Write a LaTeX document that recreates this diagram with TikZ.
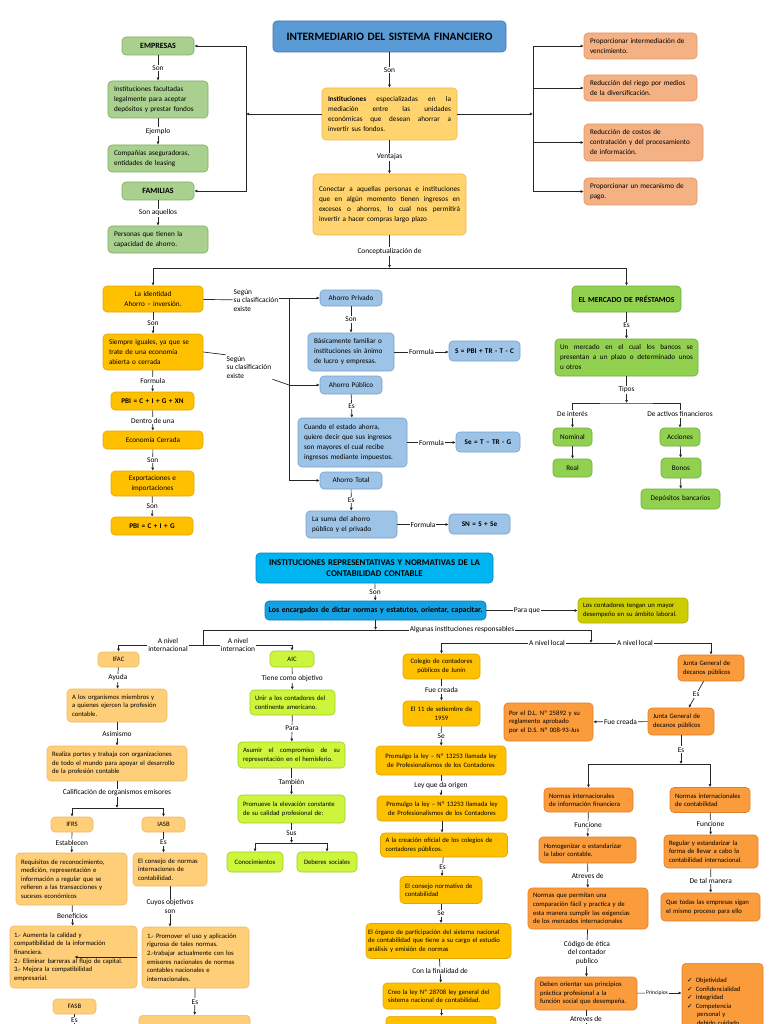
\documentclass[tikz,border=0pt]{standalone}
\usepackage{fontspec}
\setmainfont{Carlito}
\newfontfamily\simbolo{DejaVu Sans}
\usetikzlibrary{arrows.meta}
\definecolor{verdeA}{RGB}{169,208,142}
\definecolor{verdeAb}{RGB}{125,175,95}
\definecolor{azulT}{RGB}{91,155,213}
\definecolor{azulTb}{RGB}{65,113,170}
\definecolor{crema}{RGB}{255,212,110}
\definecolor{cremab}{RGB}{240,180,70}
\definecolor{salmon}{RGB}{244,177,131}
\definecolor{salmonb}{RGB}{228,150,110}
\definecolor{oro}{RGB}{255,192,0}
\definecolor{orob}{RGB}{225,165,0}
\definecolor{celeste}{RGB}{157,195,230}
\definecolor{celesteb}{RGB}{120,160,205}
\definecolor{verdeM}{RGB}{146,208,80}
\definecolor{verdeMb}{RGB}{110,175,60}
\definecolor{cian}{RGB}{0,180,240}
\definecolor{cianb}{RGB}{0,130,200}
\definecolor{azulE}{RGB}{20,160,225}
\definecolor{oliva}{RGB}{204,204,0}
\definecolor{olivab}{RGB}{175,175,0}
\definecolor{melon}{RGB}{255,206,120}
\definecolor{melonb}{RGB}{240,185,100}
\definecolor{lima}{RGB}{204,245,60}
\definecolor{limab}{RGB}{160,205,40}
\definecolor{naranja}{RGB}{250,155,60}
\definecolor{naranjab}{RGB}{225,125,40}
\newcommand{\renglon}[1]{\leavevmode\hbox to\hsize{\spaceskip=0pt\xspaceskip=0pt #1}}
\newcommand{\visto}{{\simbolo\char"2713}\enspace}

\begin{document}
\begin{tikzpicture}[x=1pt,y=-1pt,
    box/.style={draw, rounded corners=4pt, line width=0.6pt, inner xsep=6pt, inner ysep=2pt,
      align=left, font=\fontsize{7.2}{10}\selectfont},
    bajo/.style={box, inner xsep=5pt, font=\fontsize{6.7}{8.6}\selectfont},
    sz/.style 2 args={text width=#1, minimum height=#2},
    negrita/.style={align=center, font=\fontsize{7.2}{8.5}\selectfont\bfseries},
    verde/.style={box, fill=verdeA, draw=verdeAb},
    crem/.style={box, fill=crema, draw=cremab},
    salm/.style={box, fill=salmon, draw=salmonb},
    dorado/.style={box, fill=oro, draw=orob},
    azul/.style={box, fill=celeste, draw=celesteb},
    verdem/.style={box, fill=verdeM, draw=verdeMb},
    olivo/.style={bajo, fill=oliva, draw=olivab},
    mel/.style={bajo, fill=melon, draw=melonb},
    limon/.style={bajo, fill=lima, draw=limab},
    oro2/.style={bajo, fill=oro, draw=orob},
    nar/.style={bajo, fill=naranja, draw=naranjab},
    lbl/.style={fill=white, inner sep=1pt, align=center, font=\fontsize{7.4}{8.5}\selectfont},
    lin/.style={line width=0.7pt, draw=black!85},
    arr/.style={lin, -{Latex[length=3pt,width=3pt]}}]
  \useasboundingbox (0,0) rectangle (768,1024);
  \clip (0,0) rectangle (768,1024);

  % intermediario
  \node[box, fill=azulT, draw=azulTb, sz={221}{31}, align=center,
    font=\fontsize{11.3}{13}\selectfont\bfseries] (tit) at (389.5,36.5) {INTERMEDIARIO DEL SISTEMA FINANCIERO};
  \node[crem, sz={123}{52}] (inst) at (389.5,114)
    {\renglon{\textbf{Instituciones} especializadas en la}\\\renglon{mediación entre las unidades}\\
     \renglon{económicas que desean ahorrar a}\\invertir sus fondos.};
  \node[crem, sz={141}{61}] (conec) at (389.5,204.5)
    {\renglon{Conectar a aquellas personas e instituciones}\\\renglon{que en algún momento tienen ingresos en}\\
     \renglon{excesos o ahorros, lo cual nos permitirá}\\invertir a hacer compras largo plazo};
  \node[verde, sz={60}{18}, negrita, font=\fontsize{8}{9}\selectfont\bfseries] (emp) at (158,46) {EMPRESAS};
  \node[verde, sz={88}{37}] (fac) at (158,99.5) {Instituciones facultadas\\legalmente para aceptar\\depósitos y prestar fondos};
  \node[verde, sz={88}{27}] (comp) at (158,158.5) {Compañías aseguradoras,\\entidades de leasing};
  \node[verde, sz={60}{18}, negrita, font=\fontsize{8}{9}\selectfont\bfseries] (fam) at (158,191) {FAMILIAS};
  \node[verde, sz={88}{27}] (pers) at (158,239.5) {Personas que tienen la\\capacidad de ahorro.};
  \node[salm, sz={101}{26}] (r1) at (640.5,46) {Proporcionar intermediación de\\vencimiento.};
  \node[salm, sz={101}{26}] (r2) at (640.5,88) {Reducción del riego por medios\\de la diversificación.};
  \node[salm, sz={107}{37}] (r3) at (643.5,142.5) {Reducción de costos de\\contratación y del procesamiento\\de información.};
  \node[salm, sz={101}{27}] (r4) at (640.5,191.5) {Proporcionar un mecanismo de\\pago.};
  \coordinate (jl) at (246,114);
  \coordinate (jr) at (533,114);
  \coordinate (jc) at (389.5,268);

  \draw[arr] (tit) -- node[lbl]{Son} (inst);
  \draw[arr] (inst) -- node[lbl]{Ventajas} (conec);
  \draw[arr] (emp) -- node[lbl]{Son} (fac);
  \draw[arr] (fac) -- node[lbl]{Ejemplo} (comp);
  \draw[arr] (fam) -- node[lbl]{Son aquellos} (pers);
  \draw[arr] (inst) -- (jl);
  \draw[arr] (jl) |- (emp);
  \draw[arr] (jl) |- (fam);
  \draw[arr] (inst) -- (jr);
  \draw[arr] (jr) |- (r1);
  \draw[arr] (jr) |- (r2);
  \draw[arr] (jr) |- (r3);
  \draw[arr] (jr) |- (r4);

  % ahorro
  \node[dorado, sz={88}{26}, align=center] (iden) at (153,299) {La identidad\\Ahorro – inversión.};
  \node[dorado, sz={88}{36}] (siem) at (153,352) {Siempre iguales, ya que se\\trate de una economía\\abierta o cerrada};
  \node[dorado, sz={71}{18}, negrita] (pbi1) at (152.5,401) {PBI = C + I + G + XN};
  \node[dorado, sz={88}{18}, align=center] (econ) at (153,440) {Economía Cerrada};
  \node[dorado, sz={71}{25}, align=center] (expo) at (152.5,483.5) {Exportaciones e\\importaciones};
  \node[dorado, sz={70}{18}, negrita] (pbi2) at (152,526) {PBI = C + I + G};
  \node[lbl, align=left] (seg1) at (256,300) {Según\\su clasificación\\existe};
  \node[lbl, align=left] (seg2) at (249,367) {Según\\su clasificación\\existe};
  \node[azul, sz={50}{16}, align=center] (priv) at (351,298) {Ahorro Privado};
  \node[azul, sz={74}{38}] (basi) at (351,352) {Básicamente familiar o\\instituciones sin ánimo\\de lucro y empresas.};
  \node[azul, sz={63}{20}, inner xsep=4pt, negrita] (f1) at (484.5,351) {S = PBI + TR - T - C};
  \node[azul, sz={50}{18}, align=center] (pub) at (351,385) {Ahorro Público};
  \node[azul, sz={97}{49}] (cuan) at (352.5,442.5) {Cuando el estado ahorra,\\quiere decir que sus ingresos\\son mayores el cual recibe\\ingresos mediante impuestos.};
  \node[azul, sz={56}{20}, inner xsep=4pt, negrita] (f2) at (488,442) {Se = T – TR - G};
  \node[azul, sz={50}{17}, align=center] (tot) at (351,480.5) {Ahorro Total};
  \node[azul, sz={79}{27}] (suma) at (351.5,524.5) {La suma del ahorro\\público y el privado};
  \node[azul, sz={53}{20}, inner xsep=4pt, negrita] (f3) at (479.5,524) {SN = S + Se};
  \node[verdem, sz={99}{26}, inner xsep=5pt, negrita, font=\fontsize{7.7}{9}\selectfont\bfseries] (merc) at (626.5,299) {EL MERCADO DE PRÉSTAMOS};
  \node[verdem, sz={133}{37}, inner xsep=5pt] (merc2) at (626.5,357.5)
    {\renglon{Un mercado en el cual los bancos se}\\\renglon{presentan a un plazo o determinado unos}\\u otros};
  \node[lbl] (dint) at (572.5,414) {De interés};
  \node[lbl] (dact) at (680,414) {De activos financieros};
  \node[verdem, sz={27}{18}, align=center] (nom) at (572.5,437) {Nominal};
  \node[verdem, sz={27}{18}, align=center] (real) at (572.5,468) {Real};
  \node[verdem, sz={28}{18}, align=center] (acc) at (680,437) {Acciones};
  \node[verdem, sz={28}{20}, align=center] (bon) at (681,468) {Bonos};
  \node[verdem, sz={67}{20}, align=center] (dep) at (680.5,499) {Depósitos bancarios};
  \coordinate (jb) at (289,298);
  \coordinate (jt) at (626.5,403);

  \draw[arr] (conec) -- node[lbl]{Conceptualización de} (jc);
  \draw[arr] (jc) -| (iden);
  \draw[arr] (jc) -| (merc);
  \draw[arr] (iden) -- node[lbl]{Son} (siem);
  \draw[arr] (siem) -- node[lbl]{Formula} (pbi1);
  \draw[arr] (pbi1) -- node[lbl]{Dentro de una} (econ);
  \draw[arr] (econ) -- node[lbl]{Son} (expo);
  \draw[arr] (expo) -- node[lbl]{Son} (pbi2);
  \draw[lin] (iden) -- (seg1);
  \draw[arr] (seg1.east |- priv) -- (priv);
  \draw[arr] (jb) |- (pub);
  \draw[arr] (jb) |- (tot);
  \draw[lin] (siem.east) -- (seg2.north west);
  \draw[lin] (seg2.south east) -- (jb |- pub);
  \draw[arr] (priv) -- node[lbl]{Son} (basi);
  \draw[arr] (basi) -- node[lbl]{Formula} (basi -| f1.west);
  \draw[arr] (pub) -- node[lbl]{Es} (cuan);
  \draw[arr] (cuan) -- node[lbl]{Formula} (cuan -| f2.west);
  \draw[arr] (tot) -- node[lbl]{Es} (suma);
  \draw[arr] (suma) -- node[lbl]{Formula} (suma -| f3.west);
  \draw[arr] (merc) -- node[lbl]{Es} (merc2);
  \draw[arr] (merc2) -- node[lbl]{Tipos} (jt);
  \draw[lin] (dint.north) |- (jt) -| (dact.north);
  \draw[arr] (dint) -- (nom);
  \draw[arr] (dact) -- (acc);
  \draw[arr] (nom) -- (real);
  \draw[arr] (acc) -- (bon);
  \draw[arr] (bon) -- (dep);

  % instituciones contables
  \node[box, fill=cian, draw=cianb, sz={225}{30}, align=center,
    font=\fontsize{8.8}{10.5}\selectfont\bfseries] (tit2) at (374.5,568)
    {INSTITUCIONES REPRESENTATIVAS Y NORMATIVAS DE LA\\CONTABILIDAD CONTABLE};
  \node[box, fill=azulE, draw=cianb, sz={217}{19}, inner xsep=2pt, align=center,
    font=\fontsize{7.8}{9}\selectfont\bfseries] (enc) at (375.5,610.5)
    {Los encargados de dictar normas y estatutos, orientar, capacitar.};
  \node[lbl] (para) at (527,610.5) {Para que};
  \node[olivo, sz={100}{25}] (lc) at (633,610.5) {Los contadores tengan un mayor\\desempeño en su ámbito laboral.};
  \node[lbl] (alg) at (462,630) {Algunas instituciones responsables};
  \node[lbl] (int1) at (168,645) {A nivel\\internacional};
  \node[lbl] (int2) at (238,645) {A nivel\\internacion};
  \node[lbl] (loc1) at (547,643) {A nivel local};
  \node[lbl] (loc2) at (635,643) {A nivel local};
  \coordinate (ja) at (375.5,630);
  \coordinate (ji) at (203,630);
  \coordinate (ji2) at (203,645);
  \coordinate (jl2) at (591,643);

  \node[mel, sz={31}{15}, align=center] (ifac) at (118.5,659.5) {IFAC};
  \node[mel, sz={90}{33}] (alos) at (117,705.5) {A los organismos miembros y\\a quienes ejercen la profesión\\contable.};
  \node[mel, sz={130}{35}] (realz) at (117,763.5) {Realiza portes y trabaja con organizaciones\\de todo el mundo para apoyar el desarrollo\\de la profesión contable};
  \node[lbl] (cal) at (117,793) {Calificación de organismos emisores};
  \node[mel, sz={32}{15}, align=center] (ifrs) at (72,824.5) {IFRS};
  \node[mel, sz={33}{15}, align=center] (iasb) at (163.5,824.5) {IASB};
  \node[mel, sz={101}{52}] (req) at (71.5,879) {Requisitos de reconocimiento,\\medición, representación e\\información a regular que se\\refieren a las transacciones y\\sucesos económicos};
  \node[mel, sz={119}{62}, inner xsep=4pt] (ben) at (73.5,957) {1.- Aumenta la calidad y\\compatibilidad de la información\\financiera.\\2.- Eliminar barreras al flujo de capital.\\3.- Mejora la compatibilidad\\empresarial.};
  \node[mel, sz={33}{15}, align=center] (fasb) at (74.5,1006.5) {FASB};
  \node[mel, sz={64}{33}] (cons) at (170,869.5) {El consejo de normas\\internaciones de\\contabilidad.};
  \node[mel, sz={97}{61}] (obj) at (195.5,957.5) {1.- Promover el uso y aplicación\\rigurosa de tales normas.\\2.-trabajar actualmente con los\\emisores nacionales de normas\\contables nacionales e\\internacionales.};
  \node[mel, sz={101}{30}, anchor=north] (cont) at (194.5,1015) {1.- Contabilidad de las empresas};
  \coordinate (jf) at (117,808);
  \coordinate (fz) at (74.5,1040);

  \node[limon, sz={34}{16}, align=center] (aic) at (292,659) {AIC};
  \node[limon, sz={75}{25}] (unir) at (292.5,702.5) {Unir a los contadores del\\continente americano.};
  \node[limon, sz={97}{26}] (asum) at (291.5,755) {\renglon{Asumir el compromiso de su}\\representación en el hemisferio.};
  \node[limon, sz={97}{28}] (prom) at (291.5,809) {Promueve la elevación constante\\de su calidad profesional de:};
  \node[limon, sz={46}{20}, align=center] (cono) at (255,862) {Conocimientos};
  \node[limon, sz={50}{20}, align=center] (debe) at (327,862) {Deberes sociales};
  \coordinate (js) at (291.5,843);

  \node[oro2, sz={67}{25}, align=center] (col) at (441.5,666.5) {Colegio de contadores\\públicos de Junín};
  \node[oro2, sz={67}{25}, align=center] (el11) at (441.5,713.5) {El 11 de setiembre de\\1959};
  \node[oro2, sz={120}{29}, align=center] (prom1) at (441,760.5) {Promulgo la ley – Nº 13253 llamada ley\\de Profesionalismos de los Contadores};
  \node[oro2, sz={120}{25}, align=center] (prom2) at (442,808.5) {Promulgo la ley – Nº 13253 llamada ley\\de Profesionalismos de los Contadores};
  \node[oro2, sz={117}{24}] (crea) at (444,845) {A la creación oficial de los colegios de\\contadores públicos.};
  \node[oro2, sz={72}{27}] (cnorm) at (441,890) {El consejo normativo de\\contabilidad};
  \node[oro2, sz={141}{35}, inner xsep=2pt] (org) at (438.5,941) {El órgano de participación del sistema nacional\\de contabilidad que tiene a su cargo el estudio\\análisis y emisión de normas};
  \node[oro2, sz={107}{26}] (creo) at (441.5,996) {Creo la ley Nº 28708 ley general del\\sistema nacional de contabilidad.};
  \node[oro2, sz={100}{30}, anchor=north] (abs) at (441,1016) {1.- Absolver consultas en materia};

  \node[nar, sz={56}{26}] (jun1) at (711,668) {Junta General de\\decanos públicos};
  \node[nar, sz={56}{27}] (jun2) at (681,721.5) {Junta General de\\decanos públicos};
  \node[nar, sz={79}{38}] (dl) at (548.5,722) {Por el D.L. Nº 25892 y su\\reglamento aprobado\\por el D.S. Nº 008-93-Jus};
  \node[nar, sz={79}{24}] (niif) at (588.5,800) {Normas internacionales\\de información financiera};
  \node[nar, sz={87}{26}] (homo) at (587.5,850) {Homogenizar o estandarizar\\la labor contable.};
  \node[nar, sz={110}{41}] (norm) at (588,908.5) {Normas que permitan una\\comparación fácil y practica y de\\esta manera cumplir las exigencias\\de los mercados internacionales};
  \node[nar, sz={92}{33}] (debn) at (586,993.5) {Deben orientar sus principios\\práctica profesional a la\\función social que desempeña.};
  \node[nar, sz={70}{25}] (nic) at (710,800) {Normas internacionales\\de contabilidad};
  \node[nar, sz={84}{33}] (reg) at (711,851.5) {Regular y estandarizar la\\forma de llevar a cabo la\\contabilidad internacional.};
  \node[nar, sz={89}{28}] (que) at (710.5,907) {Que todas las empresas sigan\\el mismo proceso para ello};
  \node[nar, sz={71}{95}, anchor=north, font=\fontsize{6.6}{8.6}\selectfont] (chk) at (722.5,963)
    {\visto Objetividad\\\visto Confidencialidad\\\visto Integridad\\\visto Competencia\\\hspace*{10pt}personal y\\\hspace*{10pt}debido cuidado\\\visto Comportamiento\\\hspace*{10pt}profesional};
  \node[lbl, font=\fontsize{5.5}{6.5}\selectfont] (prin) at (657,993) {Principios};
  \coordinate (jn) at (681,764);
  \coordinate (dz) at (586,1040);

  \draw[arr] (tit2) -- node[lbl]{Son} (enc);
  \draw[lin] (enc) -- (para);
  \draw[arr] (para) -- (lc);
  \draw[arr] (enc) -- (ja);
  \draw[lin] (ji) -- (alg);
  \draw[arr] (alg) -| (jl2);
  \draw[lin] (ji) -- (ji2);
  \draw[lin] (int1) -- (int2);
  \draw[arr] (int1) -| (ifac);
  \draw[arr] (int2) -| (aic);
  \draw[arr] (loc1) -| (col);
  \draw[lin] (loc1) -- (loc2);
  \draw[arr] (loc2) -| (jun1);

  \draw[arr] (ifac) -- node[lbl]{Ayuda} (alos);
  \draw[arr] (alos) -- node[lbl]{Asimismo} (realz);
  \draw[lin] (realz) -- (cal);
  \draw[arr] (cal) -- (jf);
  \draw[arr] (jf) -| (ifrs);
  \draw[arr] (jf) -| (iasb);
  \draw[arr] (ifrs) -- node[lbl]{Establecen} (req);
  \draw[arr] (req) -- node[lbl]{Beneficios} (ben);
  \draw[arr] (ben) -- (ben -| fasb);
  \draw[arr] (fasb) -- node[lbl, pos=0.22]{Es} (fz);
  \draw[arr] (iasb) -- node[lbl]{Es} (iasb |- cons.north);
  \draw[arr] (cons) -- node[lbl]{Cuyos objetivos\\son} (cons |- obj.north);
  \draw[arr] (obj) -- node[lbl]{Es} (cont);

  \draw[arr] (aic) -- node[lbl]{Tiene como objetivo} (unir);
  \draw[arr] (unir) -- node[lbl]{Para} (asum);
  \draw[arr] (asum) -- node[lbl]{También} (prom);
  \draw[arr] (prom) -- node[lbl]{Sus} (js);
  \draw[arr] (js) -| (cono);
  \draw[arr] (js) -| (debe);

  \draw[arr] (col) -- node[lbl]{Fue creada} (el11);
  \draw[arr] (el11) -- node[lbl]{Se} (prom1);
  \draw[arr] (prom1) -- node[lbl]{Ley que da origen} (prom1 |- prom2.north);
  \draw[arr] (prom2) -- (prom2 |- crea.north);
  \draw[arr] (crea) -- node[lbl]{Es} (cnorm);
  \draw[arr] (cnorm) -- node[lbl]{Se} (cnorm |- org.north);
  \draw[arr] (org) -- node[lbl]{Con la finalidad de} (creo);
  \draw[arr] (creo) -- (creo |- abs.north);

  \draw[arr] (jun1) -- node[lbl]{Es} (jun2);
  \draw[arr] (jun2) -- node[lbl]{Fue creada} (dl);
  \draw[arr] (jun2) -- node[lbl]{Es} (jn);
  \draw[arr] (jn) -| (niif);
  \draw[arr] (jn) -| (nic);
  \draw[arr] (niif) -- node[lbl]{Funcione} (homo);
  \draw[arr] (homo) -- node[lbl]{Atreves de} (norm);
  \draw[arr] (norm) -- node[lbl]{Código de ética\\del contador\\publico} (debn);
  \draw[lin] (debn) -- (prin);
  \draw[arr] (prin) -- (prin -| chk.west);
  \draw[arr] (debn) -- node[lbl, pos=0.3]{Atreves de} (dz);
  \draw[arr] (nic) -- node[lbl]{Funcione} (reg);
  \draw[arr] (reg) -- node[lbl]{De tal manera} (que);
\end{tikzpicture}
\end{document}
